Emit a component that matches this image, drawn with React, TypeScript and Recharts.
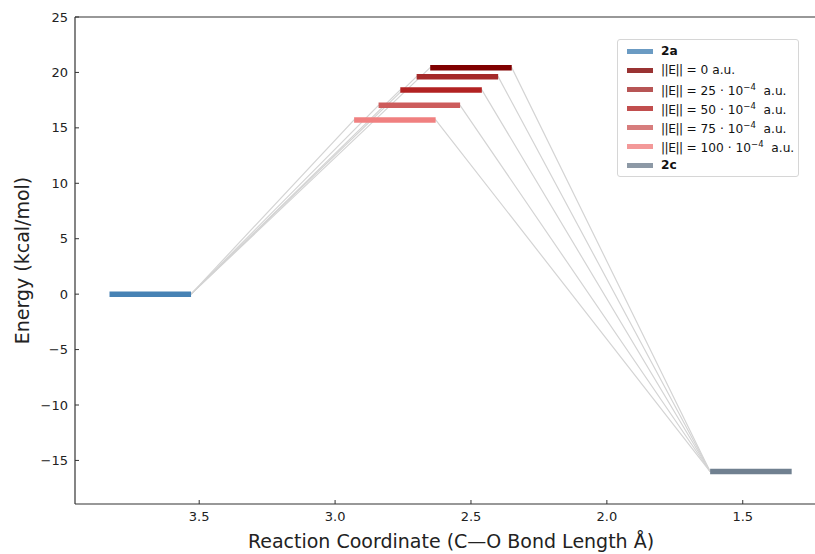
import React from "react";
import { ComposedChart, Line, XAxis, YAxis, ReferenceLine, Legend } from "recharts";

// Energy levels
const reactantLabel = "2a";
const productLabel = "2c";
const fieldStrengths = [0, 25, 50, 75, 100]; // ||E|| in 10^-4 a.u.
const tsBondLengths = [2.5, 2.55, 2.61, 2.69, 2.78];
const tsEnergies = [20.43, 19.62, 18.42, 17.03, 15.72];
const reactantBondLength = 3.68;
const reactantEnergy = 0;
const productBondLength = 1.47;
const productEnergy = -16.0;

const xTicks = [3.5, 3.0, 2.5, 2.0, 1.5];
const yTicks = [-15, -10, -5, 0, 5, 10, 15, 20, 25];

const HALF = 0.15; // half width of a level bar, in Å
const FONT = "DejaVu Sans, Verdana, sans-serif";
const AXIS = "#333";
const REACTANT_COLOR = "#4682b4";
const PRODUCT_COLOR = "#708090";
const tsColors = ["#800000", "#a52a2a", "#b22222", "#cd5c5c", "#f08080"];

const level = (x: number, y: number) => [
  { x: x - HALF, y },
  { x: x + HALF, y },
];

const connectors = tsBondLengths.map((x, i) => [
  { x: reactantBondLength - HALF, y: reactantEnergy },
  { x: x + HALF, y: tsEnergies[i] },
  { x: x - HALF, y: tsEnergies[i] },
  { x: productBondLength + HALF, y: productEnergy },
]);

const fmt = (v: number) => (v < 0 ? "\u2212" + Math.abs(v) : String(v));

const XTick = (props: any) => {
  const { x, y, payload } = props;
  return (
    <g>
      <line x1={x} x2={x} y1={y - 8} y2={y - 12} stroke={AXIS} />
      <text x={x} y={y} dy="0.71em" textAnchor="middle" fontSize={13} fontFamily={FONT} fill="#222">
        {payload.value.toFixed(1)}
      </text>
    </g>
  );
};

const YTick = (props: any) => {
  const { x, y, payload } = props;
  return (
    <g>
      <line x1={x + 7} x2={x + 11} y1={y} y2={y} stroke={AXIS} />
      <text x={x} y={y} dy="0.35em" textAnchor="end" fontSize={13} fontFamily={FONT} fill="#222">
        {fmt(payload.value)}
      </text>
    </g>
  );
};

const norm = <span style={{ letterSpacing: -0.5 }}>||E||</span>;

const legendItems = [
  { color: REACTANT_COLOR, label: <b>{reactantLabel}</b> },
  ...fieldStrengths.map((f, i) => ({
    color: tsColors[i],
    label:
      f === 0 ? (
        <span>{norm} = 0 a.u.</span>
      ) : (
        <span>
          {norm} = {f} · 10<sup style={{ fontSize: 8.5, verticalAlign: "5px" }}>−4</sup>&nbsp; a.u.
        </span>
      ),
  })),
  { color: PRODUCT_COLOR, label: <b>{productLabel}</b> },
];

const LegendBox = () => (
  <div
    style={{
      border: "1px solid #d6d6d6",
      borderRadius: 3,
      background: "#fff",
      padding: "2px 0 2px 0",
      fontFamily: FONT,
      fontSize: 12.2,
      color: "#111",
      boxSizing: "border-box",
      width: 182,
      height: 138,
    }}
  >
    {legendItems.map((it, i) => (
      <div key={i} style={{ display: "flex", alignItems: "center", height: 19, lineHeight: "19px", whiteSpace: "nowrap" }}>
        <span
          style={{
            display: "inline-block",
            width: 26,
            height: 5,
            marginLeft: 9,
            marginRight: 8,
            background: it.color,
            opacity: 0.8,
          }}
        />
        {it.label}
      </div>
    ))}
  </div>
);

export default function App() {
  return (
    <div style={{ position: "absolute", left: 0, top: 0, width: 815, height: 554, overflow: "hidden", background: "#fff" }}>
      <ComposedChart width={830} height={554} margin={{ top: 17, right: 3, bottom: 20, left: 15 }}>
        <XAxis
          type="number"
          dataKey="x"
          domain={[1.19, 3.957]}
          reversed
          allowDataOverflow
          ticks={xTicks}
          tick={<XTick />}
          tickLine={false}
          tickSize={0}
          tickMargin={8}
          height={30}
          axisLine={{ stroke: AXIS, strokeWidth: 1.2 }}
          label={{
            value: "Reaction Coordinate (C\u2014O Bond Length \u00c5)",
            position: "bottom",
            offset: 1,
            style: { fontSize: 19, fontFamily: FONT, fill: "#222" },
          }}
        />
        <YAxis
          type="number"
          dataKey="y"
          domain={[-18.93, 25]}
          allowDataOverflow
          ticks={yTicks}
          tick={<YTick />}
          tickLine={false}
          tickSize={0}
          tickMargin={7}
          width={60}
          axisLine={{ stroke: AXIS, strokeWidth: 1.2 }}
          label={{
            value: "Energy (kcal/mol)",
            angle: -90,
            position: "insideLeft",
            offset: 7,
            style: { textAnchor: "middle", fontSize: 19, fontFamily: FONT, fill: "#222" },
          }}
        />
        <ReferenceLine y={25} stroke={AXIS} strokeWidth={1.2} />

        {connectors.map((d, i) => (
          <Line
            key={"c" + i}
            data={d}
            dataKey="y"
            stroke="#d4d4d4"
            strokeWidth={1.2}
            dot={false}
            activeDot={false}
            isAnimationActive={false}
            legendType="none"
          />
        ))}

        <Line
          data={level(reactantBondLength, reactantEnergy)}
          dataKey="y"
          stroke={REACTANT_COLOR}
          strokeWidth={5.5}
          dot={false}
          activeDot={false}
          isAnimationActive={false}
        />
        {tsBondLengths.map((x, i) => (
          <Line
            key={"t" + i}
            data={level(x, tsEnergies[i])}
            dataKey="y"
            stroke={tsColors[i]}
            strokeWidth={5.5}
            dot={false}
            activeDot={false}
            isAnimationActive={false}
          />
        ))}
        <Line
          data={level(productBondLength, productEnergy)}
          dataKey="y"
          stroke={PRODUCT_COLOR}
          strokeWidth={5.5}
          dot={false}
          activeDot={false}
          isAnimationActive={false}
        />

        <Legend
          layout="vertical"
          align="center"
          verticalAlign="middle"
          wrapperStyle={{ left: 617, top: 39, width: 182, height: 138 }}
          content={() => <LegendBox />}
        />
      </ComposedChart>
    </div>
  );
}
